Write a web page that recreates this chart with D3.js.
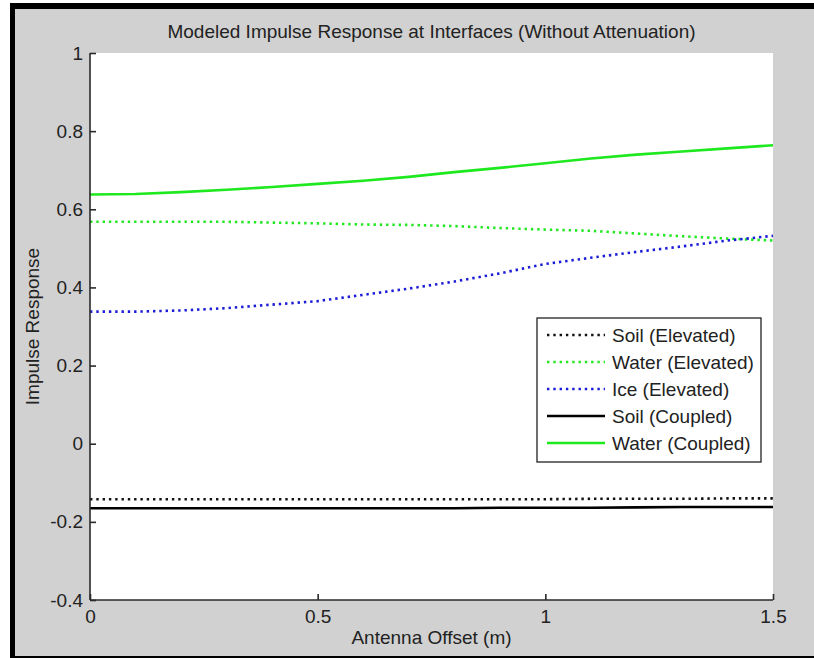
<!DOCTYPE html>
<html><head><meta charset="utf-8">
<script src="https://cdn.jsdelivr.net/npm/d3@7"></script>
<style>html,body{margin:0;padding:0;background:#fff;overflow:hidden;}svg{display:block;}</style>
</head><body>
<svg id="chart" width="814" height="658"></svg>
<script>
// ---- data ----
const offsets = [0,0.1,0.2,0.3,0.4,0.5,0.6,0.7,0.8,0.9,1.0,1.1,1.2,1.3,1.4,1.5];
const soilElevated  = [-0.142,-0.142,-0.142,-0.142,-0.142,-0.142,-0.142,-0.142,-0.142,-0.142,-0.142,-0.141,-0.141,-0.141,-0.140,-0.140];
const waterElevated = [0.568,0.568,0.568,0.568,0.566,0.564,0.561,0.560,0.557,0.552,0.548,0.545,0.538,0.531,0.525,0.520];
const iceElevated   = [0.338,0.338,0.341,0.347,0.356,0.365,0.381,0.397,0.415,0.436,0.460,0.476,0.491,0.505,0.520,0.532];
const soilCoupled   = [-0.165,-0.165,-0.165,-0.165,-0.165,-0.165,-0.165,-0.165,-0.165,-0.164,-0.164,-0.164,-0.163,-0.162,-0.162,-0.162];
const waterCoupled  = [0.638,0.639,0.644,0.650,0.657,0.665,0.673,0.683,0.695,0.706,0.718,0.730,0.740,0.748,0.756,0.764];
const seriesNames = ["Soil (Elevated)","Water (Elevated)","Ice (Elevated)","Soil (Coupled)","Water (Coupled)"];
const xTicks = [0,0.5,1,1.5];
const yTicks = [-0.4,-0.2,0,0.2,0.4,0.6,0.8,1];
const titleText = "Modeled Impulse Response at Interfaces (Without Attenuation)";
const xLabel = "Antenna Offset (m)";
const yLabel = "Impulse Response";

const seriesValues = [soilElevated, waterElevated, iceElevated, soilCoupled, waterCoupled];
const seriesColors = ["#111111","#22e822","#1c1cd8","#000000","#1ee81e"];
const seriesDotted = [true,true,true,false,false];

const svg = d3.select("#chart");
const FONT = "'Liberation Sans', Arial, sans-serif";
const FS = "19px";
// frame
svg.append("rect").attr("x",10).attr("y",3).attr("width",810).attr("height",660).attr("fill","#000");
svg.append("rect").attr("x",15).attr("y",9).attr("width",805).attr("height",647).attr("fill","#d1d1d1");

const L=90, R=773, T=53, B=600;
svg.append("rect").attr("x",L).attr("y",T).attr("width",R-L).attr("height",B-T).attr("fill","#fff");

const x = d3.scaleLinear().domain([0,1.5]).range([L,R]);
const y = d3.scaleLinear().domain([-0.4,1]).range([B,T]);

// series
const line = d3.line().x(d=>x(d[0])).y(d=>y(d[1]));
seriesValues.forEach((vals,i)=>{
  const pts = offsets.map((o,j)=>[o,vals[j]]);
  svg.append("path").datum(pts).attr("d",line).attr("fill","none")
    .attr("stroke",seriesColors[i]).attr("stroke-width",2.6)
    .attr("stroke-dasharray",seriesDotted[i]?"2.4,3.9":null);
});

// axes
const axisColor="#2a2a2a";
const gx = svg.append("g").attr("transform",`translate(0,${B})`)
  .call(d3.axisBottom(x).tickValues(xTicks).tickFormat(d=>String(d)).tickSizeInner(-6).tickSizeOuter(0).tickPadding(10));
const gy = svg.append("g").attr("transform",`translate(${L},0)`)
  .call(d3.axisLeft(y).tickValues(yTicks).tickFormat(d=>String(d)).tickSizeInner(-6).tickSizeOuter(0).tickPadding(7));
[gx,gy].forEach(g=>{
  g.select(".domain").attr("stroke",axisColor).attr("stroke-width",1.6);
  g.selectAll(".tick line").attr("stroke",axisColor).attr("stroke-width",1.6);
  g.selectAll(".tick text").attr("fill","#222").style("font-family",FONT).style("font-size",FS);
});
gx.select(".domain").attr("d",`M${L},0H${R}`);
gy.select(".domain").attr("d",`M0,${B}V${T}`);

// title & labels
svg.append("text").attr("x",(L+R)/2).attr("y",38).attr("text-anchor","middle")
  .style("font-family",FONT).style("font-size",FS).attr("fill","#222").text(titleText);
svg.append("text").attr("x",(L+R)/2).attr("y",644).attr("text-anchor","middle")
  .style("font-family",FONT).style("font-size",FS).attr("fill","#222").text(xLabel);
svg.append("text").attr("transform",`translate(39,${(T+B)/2}) rotate(-90)`).attr("text-anchor","middle")
  .style("font-family",FONT).style("font-size",FS).attr("fill","#222").text(yLabel);

// legend
const lg = svg.append("g");
lg.append("rect").attr("x",537).attr("y",318).attr("width",224).attr("height",144)
  .attr("fill","#fff").attr("stroke","#222").attr("stroke-width",1.3);
seriesNames.forEach((n,i)=>{
  const yy = 335 + i*27;
  lg.append("line").attr("x1",547).attr("x2",605).attr("y1",yy).attr("y2",yy)
    .attr("stroke",seriesColors[i]).attr("stroke-width",2.6)
    .attr("stroke-dasharray",seriesDotted[i]?"2.4,3.9":null);
  lg.append("text").attr("x",612).attr("y",yy+7).style("font-family",FONT).style("font-size",FS)
    .attr("fill","#222").text(n);
});
</script>
</body></html>
